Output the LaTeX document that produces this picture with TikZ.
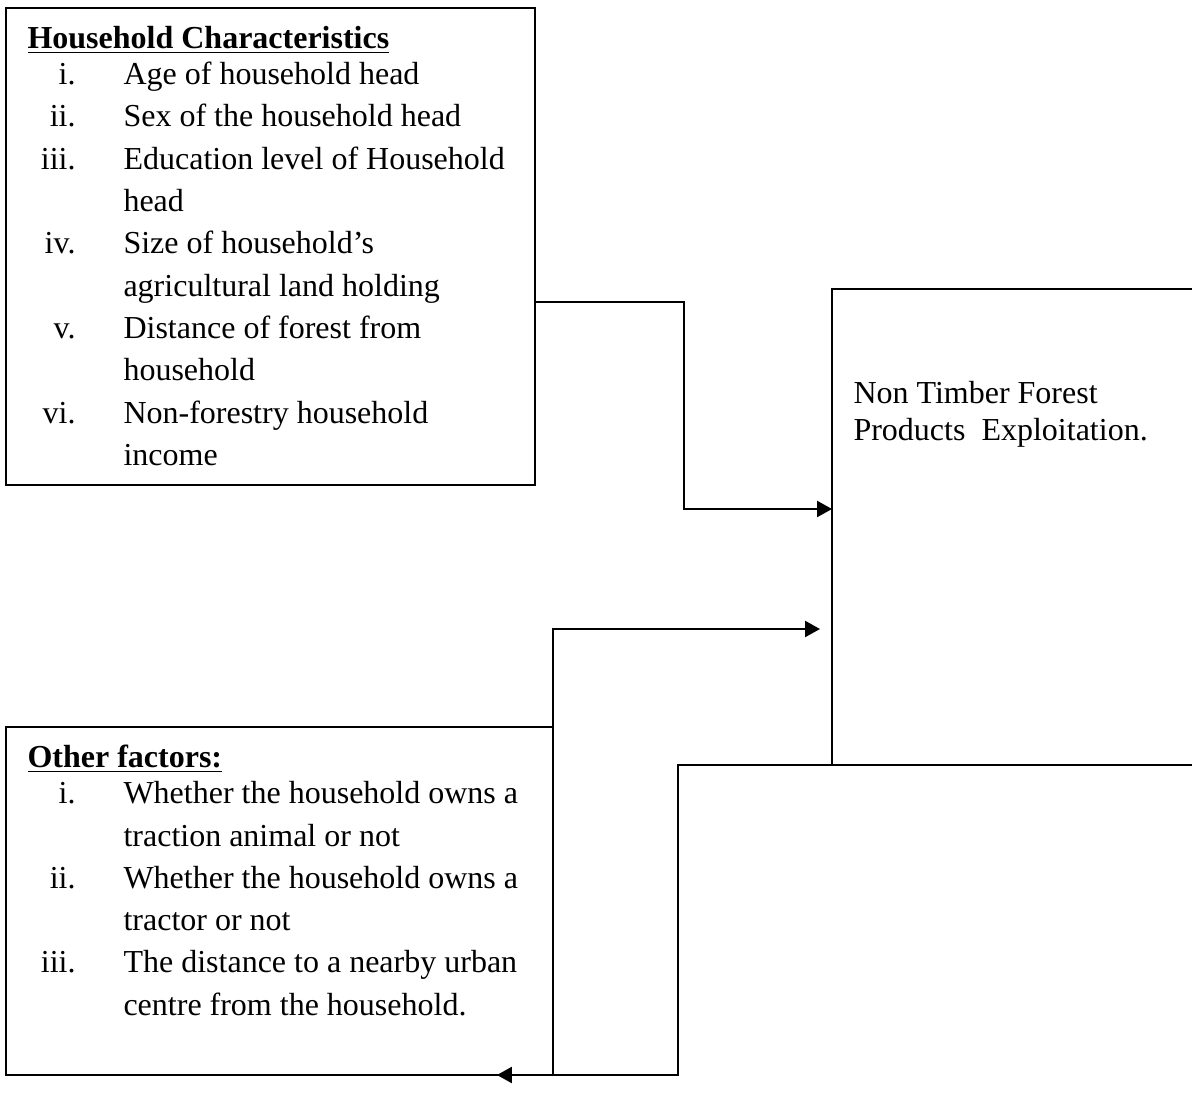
\documentclass[tikz,border=0pt]{standalone}
\usepackage{fontspec}
\setmainfont{Liberation Serif}
\usetikzlibrary{arrows.meta, positioning, calc}

\tikzset{
  panel/.style={draw, line width=0.8pt, rectangle, inner sep=0pt, outer sep=0pt, anchor=north west},
  link/.style={line width=0.8pt},
  tip/.style={-{Triangle[length=5.6pt, width=6pt]}},
  listing/.style={inner sep=0pt, anchor=north west, align=left, font=\fontsize{12}{15.86}\selectfont},
}
\newcommand{\itemno}[1]{\makebox[18pt][r]{#1}}

\begin{document}
\begin{tikzpicture}[x=0.375pt, y=-0.375pt]
 \useasboundingbox (0,0) rectangle (1192,1109);
 \clip (0,0) rectangle (1192,1109);

 % Boxes
 \node[panel, minimum width=198.4pt, minimum height=178.9pt] (hh) at (6,8) {};
 \node[panel, minimum width=150pt, minimum height=178.5pt] (ntfp) at (832,289) {};
 \node[panel, minimum width=205.1pt, minimum height=130.5pt] (other) at (6,727) {};

 % Box texts
 \node[listing] (hhtext) at ($(hh.north west)+(21,10.4)$) {%
   \begin{tabular}{@{}l@{\hspace{18pt}}l@{}}
   \multicolumn{2}{@{}l@{}}{\underline{\textbf{Household Characteristics}}}\\[-2.3pt]
   \itemno{i.}   & Age of household head\\
   \itemno{ii.}  & Sex of the household head\\
   \itemno{iii.} & Education level of Household\\
                 & head\\
   \itemno{iv.}  & Size of household’s\\
                 & agricultural land holding\\
   \itemno{v.}   & Distance of forest from\\
                 & household\\
   \itemno{vi.}  & Non-forestry household\\
                 & income
   \end{tabular}};
 \node[listing] (othertext) at ($(other.north west)+(21,10.4)$) {%
   \begin{tabular}{@{}l@{\hspace{18pt}}l@{}}
   \multicolumn{2}{@{}l@{}}{\underline{\textbf{Other factors:}}}\\[-2.3pt]
   \itemno{i.}   & Whether the household owns a\\
                 & traction animal or not\\
   \itemno{ii.}  & Whether the household owns a\\
                 & tractor or not\\
   \itemno{iii.} & The distance to a nearby urban\\
                 & centre from the household.
   \end{tabular}};
 \node[listing, font=\fontsize{12}{13.9}\selectfont] (ntfptext) at ($(ntfp.north west)+(21,92)$)
   {Non Timber Forest\\Products\ \ Exploitation.};

 % Connectors
 \draw[link, tip] (hh.east |- 0,302) -| (684,509) -- (ntfp.west |- 0,509);
 \draw[link, tip, shorten >=4.5pt] (other.north east) |- (ntfp.west |- 0,629);
 \draw[link, tip] (ntfp.south west) -| (678,1075) -- ([xshift=-21pt]other.south east);
\end{tikzpicture}
\end{document}
